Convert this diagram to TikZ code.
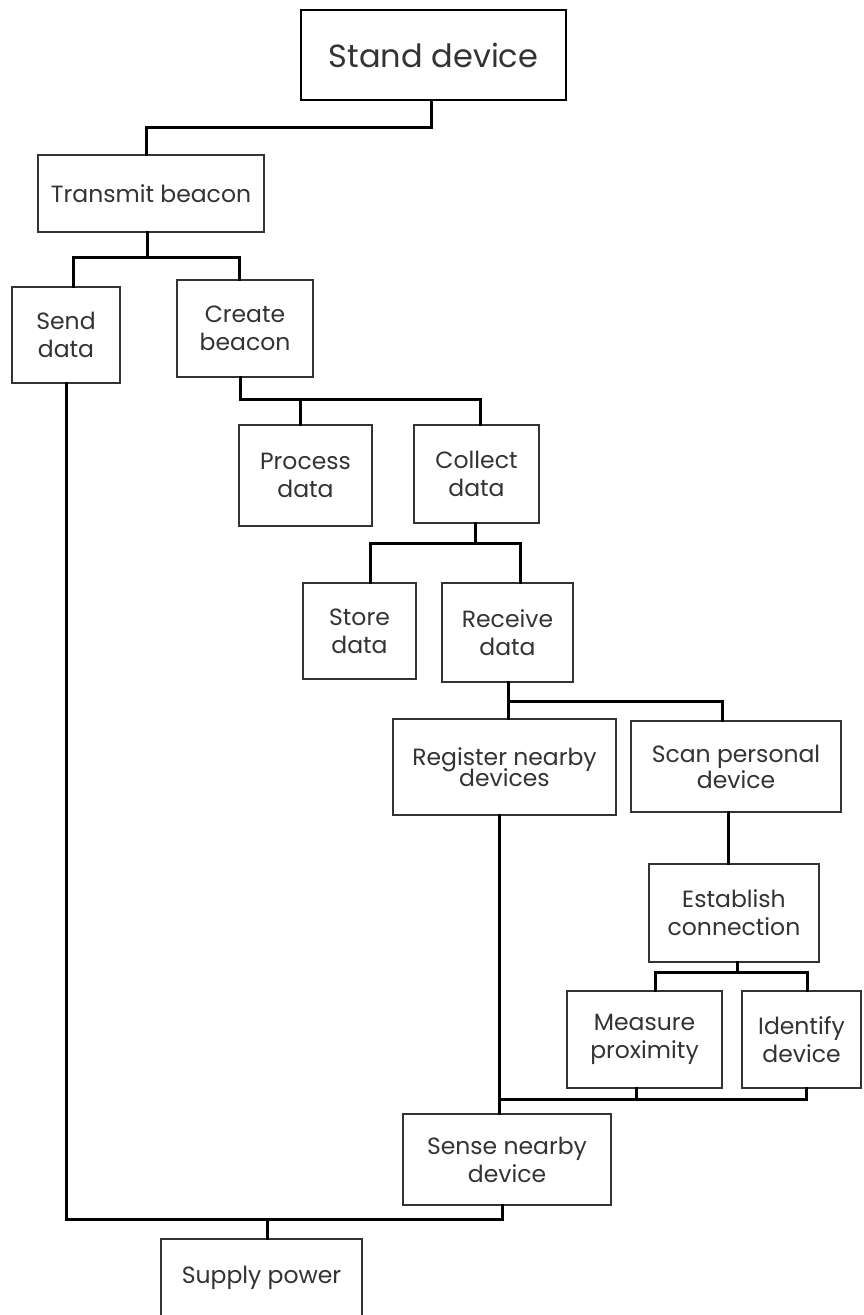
\documentclass[tikz,border=0pt]{standalone}
\usepackage{fontspec}
\setmainfont{Poppins}
\begin{document}
\begin{tikzpicture}[x=1pt,y=-1pt,
  box/.style={draw=black!80, line width=1.3pt, inner sep=0pt, align=center,
    text=black!80, font=\fontsize{23.5}{28}\selectfont},
  topbox/.style={box, line width=2.8pt, draw=black, font=\fontsize{32}{36}\selectfont},
  link/.style={draw=black, line width=3pt, line join=miter, line cap=rect}]
\clip (0,0) rectangle (863,1315);
\fill[white] (0,0) rectangle (863,1315);

% activity boxes
\node[topbox, minimum width=265pt, minimum height=90pt] (stand) at (433.5,55) {Stand device};
\node[box, minimum width=226pt, minimum height=77pt] (transmit) at (151,193.5) {Transmit beacon};
\node[box, minimum width=108pt, minimum height=96pt] (send) at (66,335) {Send\\data};
\node[box, minimum width=136pt, minimum height=97pt] (create) at (245,328.5) {Create\\beacon};
\node[box, minimum width=133pt, minimum height=101pt] (process) at (305.5,475.5) {Process\\data};
\node[box, minimum width=125pt, minimum height=98pt] (collect) at (476.5,474) {Collect\\data};
\node[box, minimum width=113pt, minimum height=96pt] (store) at (359.5,631) {Store\\data};
\node[box, minimum width=131pt, minimum height=99pt] (receive) at (507.5,632.5) {Receive\\data};
\node[box, minimum width=223pt, minimum height=96pt] (register) at (504.5,767) {Register nearby\\[-7pt]devices};
\node[box, minimum width=210pt, minimum height=91pt] (scan) at (736,766.5) {Scan personal\\[-2pt]device};
\node[box, minimum width=170pt, minimum height=98pt] (establish) at (734,913) {Establish\\connection};
\node[box, minimum width=155pt, minimum height=97pt] (measure) at (644.5,1039.5) {Measure\\proximity};
\node[box, minimum width=119pt, minimum height=97pt] (identify) at (801.5,1039.5) {Identify\\device};
\node[box, minimum width=208pt, minimum height=91pt] (sense) at (507,1159.5) {Sense nearby\\device};
\node[box, minimum width=201pt, minimum height=78pt] (supply) at (261.5,1278) {Supply power};

% junction points of the connector buses
\coordinate (a1) at (431,127);  \coordinate (a2) at (146,127);
\coordinate (b1) at (147,257);  \coordinate (b2) at (73,257);   \coordinate (b3) at (239,257);
\coordinate (c1) at (240,399);  \coordinate (c2) at (300,399);  \coordinate (c3) at (480,399);
\coordinate (d1) at (475,543);  \coordinate (d2) at (370,543);  \coordinate (d3) at (520,543);
\coordinate (e1) at (508,701);  \coordinate (e2) at (722,701);
\coordinate (f1) at (728,840);
\coordinate (g1) at (737,972);  \coordinate (g2) at (655,972);  \coordinate (g3) at (807,972);
\coordinate (h1) at (499,1099); \coordinate (h2) at (636,1099); \coordinate (h3) at (806,1099);
\coordinate (i1) at (66,1219);  \coordinate (i2) at (267,1219); \coordinate (i3) at (502,1219);

% connectors
\draw[link] (stand.south -| a1) -- (a1) -- (a2) -- (transmit.north -| a2);

\draw[link] (transmit.south -| b1) -- (b1);
\draw[link] (send.north -| b2) -- (b2) -- (b3) -- (create.north -| b3);

\draw[link] (create.south -| c1) -- (c1) -- (c3) -- (collect.north -| c3);
\draw[link] (c2) -- (process.north -| c2);

\draw[link] (collect.south -| d1) -- (d1);
\draw[link] (store.north -| d2) -- (d2) -- (d3) -- (receive.north -| d3);

\draw[link] (receive.south -| e1) -- (register.north -| e1);
\draw[link] (e1) -- (e2) -- (scan.north -| e2);

\draw[link] (scan.south -| f1) -- (establish.north -| f1);

\draw[link] (establish.south -| g1) -- (g1);
\draw[link] (measure.north -| g2) -- (g2) -- (g3) -- (identify.north -| g3);

\draw[link] (register.south -| h1) -- (sense.north -| h1);
\draw[link] (h1) -- (h3) -- (identify.south -| h3);
\draw[link] (h2) -- (measure.south -| h2);

\draw[link] (send.south -| i1) -- (i1) -- (i3) -- (sense.south -| i3);
\draw[link] (i2) -- (supply.north -| i2);
\end{tikzpicture}
\end{document}
